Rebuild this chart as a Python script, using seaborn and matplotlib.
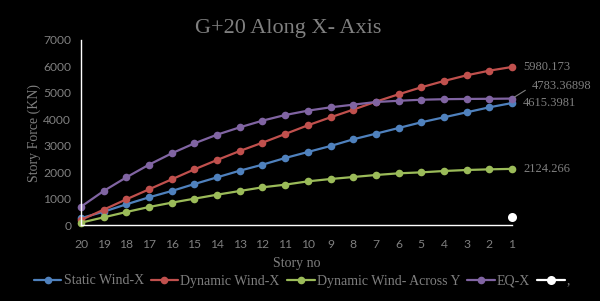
import matplotlib
matplotlib.use("Agg")
import matplotlib.pyplot as plt
import seaborn as sns
import pandas as pd

stories = ["20", "19", "18", "17", "16", "15", "14", "13", "12", "11",
           "10", "9", "8", "7", "6", "5", "4", "3", "2", "1"]
static_wind_x = [260, 503, 783, 1048, 1287, 1551, 1804, 2055, 2283, 2535,
                 2762, 2989, 3242, 3455, 3670, 3886, 4075, 4264, 4453, 4615.3981]
dynamic_wind_x = [189, 580, 972, 1350, 1728, 2106, 2460, 2800, 3115, 3443,
                  3772, 4075, 4364, 4667, 4945, 5210, 5449, 5664, 5840, 5980.173]
dynamic_wind_across_y = [88, 290, 492, 681, 845, 996, 1147, 1287, 1426, 1526,
                         1652, 1740, 1816, 1892, 1955, 1992, 2043, 2081, 2106, 2124.266]
eq_x = [692, 1287, 1804, 2283, 2712, 3090, 3418, 3696, 3948, 4162,
        4326, 4453, 4553, 4654, 4700, 4740, 4760, 4770, 4775, 4783.36898]
extra_story = ["1"]
extra_value = [300]

series_names = ["Static Wind-X", "Dynamic Wind-X", "Dynamic Wind- Across Y", "EQ-X"]
series_values = [static_wind_x, dynamic_wind_x, dynamic_wind_across_y, eq_x]
colors = ["#4F81BD", "#C0504D", "#9BBB59", "#8064A2"]
end_labels = ["4615.3981", "5980.173", "2124.266", "4783.36898"]

sns.set_theme(style="white")
plt.rcParams.update({
    "figure.facecolor": "black",
    "axes.facecolor": "black",
    "savefig.facecolor": "black",
    "font.family": ["Lato", "DejaVu Sans"],
})
serif = ["Liberation Serif", "DejaVu Serif"]
grey = "#7f7f7f"

fig = plt.figure(figsize=(6.0, 3.01), dpi=100)
ax = fig.add_axes([81 / 600, 1 - 225 / 301, (512 - 81) / 600, (225 - 40) / 301])

for name, vals, c in zip(series_names, series_values, colors):
    df = pd.DataFrame({"story": stories, "force": vals})
    sns.lineplot(data=df, x="story", y="force", sort=False, color=c, marker="o",
                 markersize=5.5, markeredgewidth=0, linewidth=1.6, label=name, ax=ax)

dfw = pd.DataFrame({"story": extra_story, "force": extra_value})
sns.lineplot(data=dfw, x="story", y="force", sort=False, color="white", marker="o",
             markersize=6.5, markeredgewidth=0, linewidth=1.6, label=",", ax=ax)
for l in ax.lines:
    l.set_clip_on(False)

ax.set_xlim(0, len(stories) - 1)
ax.set_ylim(0, 7000)
ax.set_yticks(range(0, 7001, 1000))
ax.tick_params(axis="both", colors="white", labelcolor=grey, labelsize=8.7,
               length=4, width=1, direction="out")
ax.tick_params(axis="x", pad=6)
ax.tick_params(axis="y", pad=3)
for s in ["top", "right"]:
    ax.spines[s].set_visible(False)
for s in ["left", "bottom"]:
    ax.spines[s].set_color("white")
    ax.spines[s].set_linewidth(1)

ax.set_xlabel("Story no", color=grey, fontsize=10, family=serif, labelpad=5)
ax.set_ylabel("Story Force (KN)", color=grey, fontsize=10, family=serif, labelpad=1.5)
fig.text(288 / 600, 1 - 29 / 301, "G+20 Along X- Axis", color=grey, fontsize=16,
         family=serif, ha="center", va="center")

# end-point data labels
last = len(stories) - 1
offsets = {"5980.173": (8, 0), "4615.3981": (8, 0), "2124.266": (8, 0),
           "4783.36898": (14.5, 9)}
for vals, lab in zip(series_values, end_labels):
    dx, dy = offsets[lab]
    if lab == "4783.36898":
        ax.annotate(lab, xy=(last, vals[-1]), xytext=(dx, dy), textcoords="offset points",
                    color=grey, fontsize=9, family=serif, va="center", ha="left",
                    annotation_clip=False,
                    arrowprops=dict(arrowstyle="-", color=grey, lw=0.8,
                                    shrinkA=3, shrinkB=2, relpos=(0, 0.5)))
    else:
        ax.annotate(lab, xy=(last, vals[-1]), xytext=(dx, dy), textcoords="offset points",
                    color=grey, fontsize=9, family=serif, va="center", ha="left",
                    annotation_clip=False)

leg = ax.legend(loc="center", bbox_to_anchor=((302 - 81) / 431, (225 - 281) / 185),
                ncol=5, frameon=False, prop={"family": serif, "size": 10},
                handlelength=2.0, handletextpad=0.15, columnspacing=0.5,
                borderaxespad=0, borderpad=0)
for t in leg.get_texts():
    t.set_color(grey)

fig.savefig("out.png", dpi=100)
